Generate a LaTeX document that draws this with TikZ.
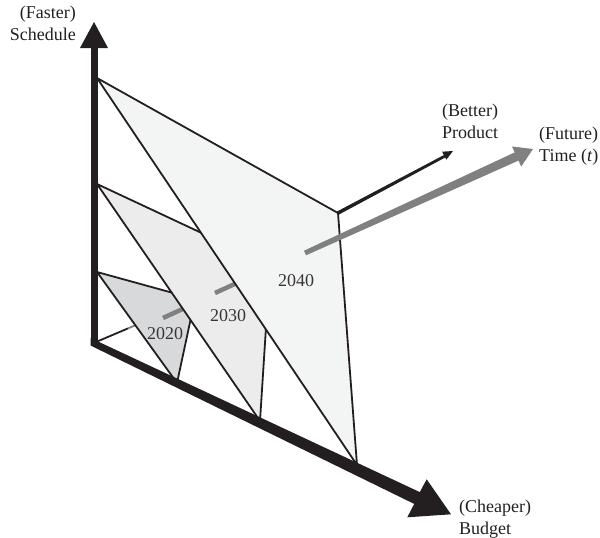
\documentclass[tikz,border=0pt]{standalone}
\usepackage{fontspec}
\setmainfont{Liberation Serif}
\usetikzlibrary{calc}
\definecolor{ink}{HTML}{231F20}
\definecolor{axgray}{HTML}{808080}
\definecolor{fillA}{HTML}{D8D9DB}
\definecolor{fillB}{HTML}{ECECED}
\definecolor{fillC}{HTML}{F3F4F4}
\begin{document}
\begin{tikzpicture}[x=1pt,y=-1pt,
  plane/.style={draw=ink,line width=1.8pt,line join=miter},
  lab/.style={font=\fontsize{18}{21.5}\selectfont,text=ink,inner sep=0pt},
  yearlab/.style={font=\fontsize{18}{21}\selectfont,text=ink!90,inner sep=0pt},
  timeseg/.style={draw=axgray,line width=4.5pt}]
\useasboundingbox (0,0) rectangle (600,538);
% named points
\coordinate (O) at (96,342);
\coordinate (Oe) at (128,328.4);
\coordinate (Oe2) at (136,325);
\coordinate (S20) at (97,272);  \coordinate (P20) at (195,299); \coordinate (B20) at (177,383);
\coordinate (S30) at (97,184);  \coordinate (P30) at (270,265); \coordinate (B30) at (260,421);
\coordinate (S40) at (97,78);   \coordinate (P40) at (338,213); \coordinate (B40) at (357,465);
\coordinate (T20a) at (163,318); \coordinate (T20b) at (200,301);
\coordinate (T30a) at (215,293); \coordinate (T30b) at (250,277);
\coordinate (Pend) at (446,155.5);
% time axis start near origin
\draw[ink,line width=1.8pt] (O) -- (Oe);
\draw[axgray,line width=1.8pt] (Oe) -- (Oe2);
% 2020 plane
\filldraw[plane,fill=fillA] (S20) -- (P20) -- (B20) -- cycle;
\draw[timeseg] (T20a) -- (T20b);
% 2030 plane
\filldraw[plane,fill=fillB] (S30) -- (P30) -- (B30) -- cycle;
\draw[timeseg] (T30a) -- (T30b);
% 2040 plane
\filldraw[plane,fill=fillC] (S40) -- (P40) -- (B40) -- cycle;
% time arrow (grey)
\fill[axgray] (304.0,250.7) -- (514.7,152.4) -- (512,146.5) -- (533,149) -- (521.2,166.5) -- (518.5,160.6) -- (306.0,255.3) -- cycle;
% better axis
\fill[ink] (337,211.5) -- (445.5,154.2) -- (446.5,156.8) -- (339,214.5) -- cycle;
\fill[ink] (442.1,151.7) -- (453,151) -- (446.3,159.7) -- cycle;
% vertical axis
\fill[ink] (90.5,345.5) rectangle (97.5,46);
\fill[ink] (80,48) -- (94,22) -- (108,48) -- cycle;
% budget axis
\fill[ink] (90.5,338) -- (419.8,492.1) -- (426.7,479.3) -- (451,514.3) -- (407.3,517.3) -- (414.2,503.9) -- (90.5,345.5) -- cycle;
% labels
\node[lab,anchor=north east,align=right] (faster) at (76,6) {(Faster)\\Schedule};
\node[lab,anchor=north west,align=left] (better) at (442,104) {(Better)\\Product};
\node[lab,anchor=north west,align=left] (future) at (539,127) {(Future)\\Time (\textit{t})};
\node[lab,anchor=north west,align=left] (cheaper) at (459,500) {(Cheaper)\\Budget};
\node[yearlab] (y20) at (165,334) {2020};
\node[yearlab] (y30) at (228,316) {2030};
\node[yearlab] (y40) at (296,281) {2040};
\end{tikzpicture}
\end{document}
